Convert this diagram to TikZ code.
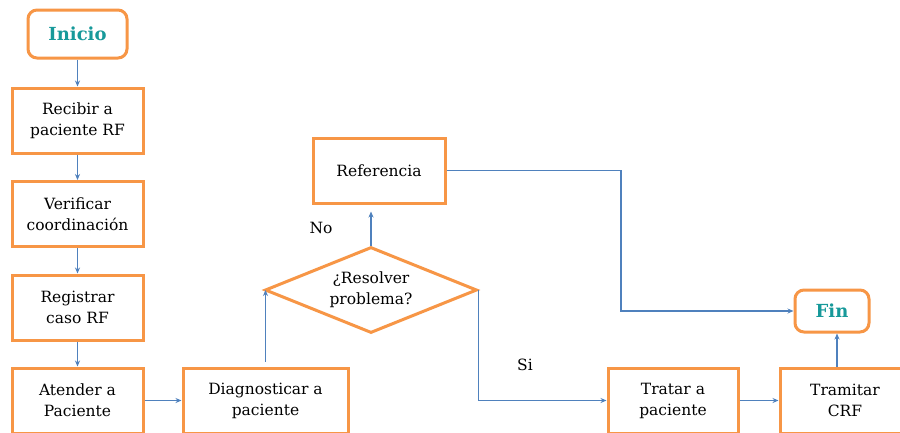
\documentclass[tikz,border=0pt]{standalone}
\usepackage{fontspec}
\setmainfont{DejaVu Serif}
\usetikzlibrary{shapes.geometric,arrows.meta}
\definecolor{boxorange}{HTML}{F79646}
\definecolor{flowblue}{HTML}{4F81BD}
\definecolor{termteal}{HTML}{17999A}
\begin{document}
\begin{tikzpicture}[x=1pt,y=-1pt,
  txt/.style={font=\fontsize{15.5}{21}\selectfont,align=center},
  stepbox/.style={txt,draw=boxorange,line width=3pt,fill=white,inner sep=0pt,
    minimum width=131pt,minimum height=65pt},
  termbox/.style={draw=boxorange,line width=3pt,rounded corners=9pt,inner sep=0pt,
    text=termteal,font=\fontsize{18}{21}\selectfont\bfseries},
  decbox/.style={txt,diamond,aspect=2.46,draw=boxorange,line width=3pt,inner sep=0pt,
    minimum width=212pt,minimum height=86pt},
  flow/.style={draw=flowblue,line width=1.5pt,-{Stealth[length=6pt,width=5pt]}},
  lbl/.style={txt}]
\clip (0,0) rectangle (900,432);
\fill[white] (0,0) rectangle (900,432);

% process boxes, left column
\node[termbox,minimum width=99pt,minimum height=48pt] (ini) at (77.5,34) {Inicio};
\node[stepbox] (rec) at (77.5,120.5) {Recibir a\\paciente RF};
\node[stepbox] (ver) at (77.5,214) {Verificar\\coordinación};
\node[stepbox] (reg) at (77.5,307.5) {Registrar\\caso RF};
\node[stepbox] (ate) at (77.5,400.5) {Atender a\\Paciente};

% diagnosis and decision
\node[stepbox,minimum width=165pt] (dia) at (265.5,400.5) {Diagnosticar a\\paciente};
\node[decbox] (dec) at (371,290) {¿Resolver\\problema?};
\node[stepbox,minimum width=132pt] (ref) at (379,170.5) {Referencia};

% right side
\node[stepbox,minimum width=130pt] (tra) at (673,400.5) {Tratar a\\paciente};
\node[stepbox,minimum width=130pt] (trm) at (845,400.5) {Tramitar\\CRF};
\node[termbox,minimum width=74pt,minimum height=42pt] (fin) at (832,311) {Fin};

% branch labels
\node[lbl] (no) at (321,228) {No};
\node[lbl] (si) at (525,365) {Si};

% connectors
\coordinate (turn) at (621,0);
\draw[flow] (ini) -- (rec);
\draw[flow] (rec) -- (ver);
\draw[flow] (ver) -- (reg);
\draw[flow] (reg) -- (ate);
\draw[flow] (ate) -- (dia);
\draw[flow,shorten <=5pt] (dia.north) -- (dia.north |- dec.west);
\draw[flow,shorten >=7pt] (dec.north) -- (dec.north |- ref.south);
\draw[flow] (ref.east) -| (turn |- fin.west) -- (fin.west);
\draw[flow] (dec.east) |- (tra.west);
\draw[flow] (tra) -- (trm);
\draw[flow] ([xshift=-8pt]trm.north) -- ([xshift=-8pt]trm.north |- fin.south);
\end{tikzpicture}
\end{document}
